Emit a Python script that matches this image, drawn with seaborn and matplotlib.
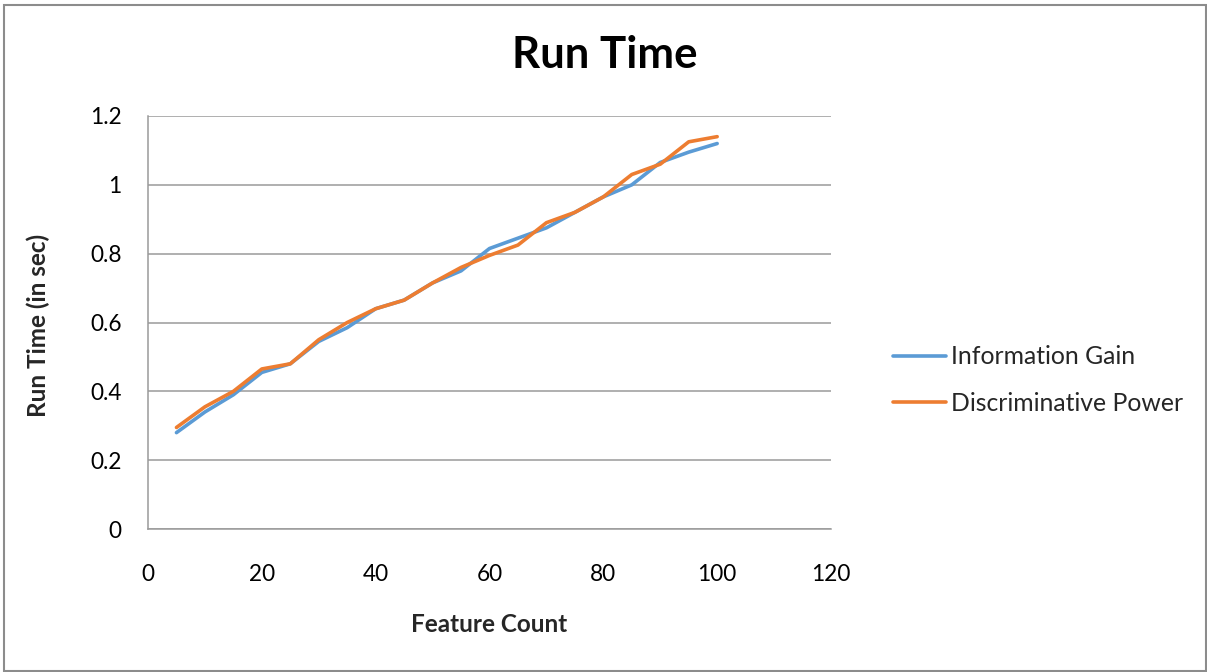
import numpy as np
import pandas as pd
import matplotlib.pyplot as plt
import seaborn as sns
from matplotlib.patches import Rectangle

# values
feature_count = [5, 10, 15, 20, 25, 30, 35, 40, 45, 50,
                 55, 60, 65, 70, 75, 80, 85, 90, 95, 100]
info_gain = [0.28, 0.34, 0.39, 0.455, 0.48, 0.545, 0.585, 0.64, 0.665, 0.715,
             0.75, 0.815, 0.845, 0.875, 0.92, 0.965, 1.0, 1.065, 1.095, 1.12]
disc_power = [0.295, 0.355, 0.40, 0.465, 0.48, 0.55, 0.60, 0.64, 0.665, 0.715,
              0.76, 0.795, 0.825, 0.89, 0.92, 0.965, 1.03, 1.06, 1.125, 1.14]
series_names = ["Information Gain", "Discriminative Power"]
x_ticks = [0, 20, 40, 60, 80, 100, 120]
y_ticks = [0, 0.2, 0.4, 0.6, 0.8, 1.0, 1.2]
y_tick_labels = ["0", "0.2", "0.4", "0.6", "0.8", "1", "1.2"]

df = pd.DataFrame({
    "Feature Count": feature_count * 2,
    "Run Time": info_gain + disc_power,
    "Series": [series_names[0]] * len(feature_count) + [series_names[1]] * len(feature_count),
})

sns.set_style("white")
plt.rcParams['font.family'] = ['Lato', 'DejaVu Sans']

fig = plt.figure(figsize=(12.07, 6.72), dpi=100)
ax = fig.add_axes([148 / 1207, 1 - 529 / 672, (831 - 148) / 1207, (529 - 116) / 672])

palette = {series_names[0]: "#5B9BD5", series_names[1]: "#ED7D31"}
sns.lineplot(data=df, x="Feature Count", y="Run Time", hue="Series",
             palette=palette, linewidth=2.6, ax=ax, legend=False,
             solid_joinstyle="round", solid_capstyle="round")

ax.set_xlim(0, 120)
ax.set_ylim(0, 1.2)
ax.set_xticks(x_ticks)
ax.set_yticks(y_ticks)
ax.set_yticklabels(y_tick_labels)
ax.tick_params(axis="both", length=0, labelsize=16.3, colors="black")
ax.tick_params(axis="x", pad=25)
ax.tick_params(axis="y", pad=19)

ax.yaxis.grid(True, color="#9a9a9a", linewidth=1.1)
ax.xaxis.grid(False)
for s in ["top", "right"]:
    ax.spines[s].set_visible(False)
for s in ["left", "bottom"]:
    ax.spines[s].set_color("#9a9a9a")
    ax.spines[s].set_linewidth(1.1)
ax.set_axisbelow(True)

ax.set_xlabel("Feature Count", fontsize=17.5, fontweight="bold", va="center")
ax.xaxis.set_label_coords(0.5, -0.232)
ax.set_ylabel("Run Time (in sec)", fontsize=17.5, fontweight="bold", va="center")
ax.yaxis.set_label_coords(-0.161, 0.494)

fig.text(605 / 1207, 1 - 55 / 672, "Run Time", fontsize=31.5, fontweight="bold",
         ha="center", va="center", color="black")

handles = [plt.Line2D([], [], color=palette[n], linewidth=2.6) for n in series_names]
fig.legend(handles, series_names, loc="center left",
           bbox_to_anchor=(893 / 1207, 1 - 380 / 672), frameon=False,
           fontsize=17.8, handlelength=2.15, handletextpad=0.2, labelspacing=0.95,
           borderpad=0, borderaxespad=0)

fig.patches.append(Rectangle((4 / 1207, 1 - 671 / 672), 1202 / 1207, 666 / 672,
                             transform=fig.transFigure, fill=False,
                             edgecolor="#8c8c8c", linewidth=1.5))

plt.savefig("out.png", dpi=100)
